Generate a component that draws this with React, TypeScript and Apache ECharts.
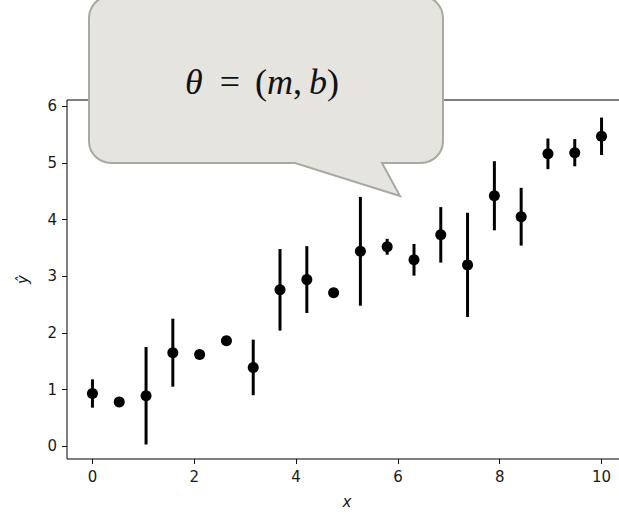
import React, { useEffect, useRef } from "react";
import * as echarts from "echarts";

const xValues = [0, 0.526, 1.053, 1.579, 2.105, 2.632, 3.158, 3.684, 4.211, 4.737, 5.263, 5.789, 6.316, 6.842, 7.368, 7.895, 8.421, 8.947, 9.474, 10];
const yValues = [0.93, 0.78, 0.89, 1.65, 1.62, 1.86, 1.39, 2.76, 2.94, 2.71, 3.44, 3.52, 3.29, 3.73, 3.2, 4.42, 4.05, 5.16, 5.18, 5.47];
const yErrors = [0.25, 0.05, 0.86, 0.6, 0.05, 0.05, 0.49, 0.72, 0.59, 0.05, 0.96, 0.14, 0.28, 0.49, 0.92, 0.61, 0.51, 0.27, 0.24, 0.33];
const xTicks = [0, 2, 4, 6, 8, 10];
const yTicks = [0, 1, 2, 3, 4, 5, 6];
const xRange = [-0.5, 10.5];
const yRange = [-0.226, 6.11];

const BUBBLE_D =
  "M 111 -4 L 421 -4 C 433.2 -4 443 5.8 443 18 L 443 141 C 443 153.2 433.2 163 421 163 " +
  "L 382 163 L 400 196 L 295 163 L 111 163 C 98.8 163 89 153.2 89 141 L 89 18 C 89 5.8 98.8 -4 111 -4 Z";

let registered = false;

export default function App() {
  const ref = useRef<HTMLDivElement>(null);
  useEffect(() => {
    if (!registered) {
      echarts.graphic.registerShape("bubble", echarts.graphic.extendPath(BUBBLE_D, {}) as any);
      registered = true;
    }
    const chart = echarts.init(ref.current!, null, { renderer: "svg" });
    const points = xValues.map((x, i) => [x, yValues[i]]);
    const bars = xValues.map((x, i) => [x, yValues[i], yErrors[i]]);
    const labelStyle = { color: "#1a1a1a", fontSize: 15, fontFamily: "DejaVu Sans", margin: 10 };
    chart.setOption({
      animation: false,
      backgroundColor: "#fff",
      grid: {
        left: 67,
        top: 100,
        right: 13,
        bottom: 49,
        show: true,
        borderColor: "#000",
        borderWidth: 1,
        backgroundColor: "transparent",
      },
      xAxis: {
        type: "value",
        min: xRange[0],
        max: xRange[1],
        splitLine: { show: false },
        axisLine: { show: false, onZero: false },
        axisTick: { show: true, length: 5, customValues: xTicks, lineStyle: { color: "#111" } },
        axisLabel: { ...labelStyle, customValues: xTicks },
        name: "x",
        nameLocation: "middle",
        nameGap: 35,
        nameTextStyle: { fontStyle: "italic", fontSize: 15, color: "#1a1a1a", fontFamily: "DejaVu Sans" },
      },
      yAxis: {
        type: "value",
        min: yRange[0],
        max: yRange[1],
        splitLine: { show: false },
        axisLine: { show: false, onZero: false },
        axisTick: { show: true, length: 5, customValues: yTicks, lineStyle: { color: "#111" } },
        axisLabel: { ...labelStyle, customValues: yTicks },
        name: "ŷ",
        nameLocation: "middle",
        nameRotate: 90,
        nameGap: 37,
        nameTextStyle: { fontStyle: "italic", fontSize: 15, color: "#1a1a1a", fontFamily: "DejaVu Sans" },
      },
      series: [
        {
          type: "custom",
          data: bars,
          encode: { x: 0, y: 1 },
          renderItem: (params: any, api: any) => {
            const x = api.value(0);
            const y = api.value(1);
            const e = api.value(2);
            const top = api.coord([x, y + e]);
            const bot = api.coord([x, y - e]);
            return {
              type: "line",
              shape: { x1: top[0], y1: top[1], x2: bot[0], y2: bot[1] },
              style: { stroke: "#000", lineWidth: 3 },
            };
          },
          z: 2,
        },
        {
          type: "scatter",
          data: points,
          symbol: "circle",
          symbolSize: 11,
          itemStyle: { color: "#000", opacity: 1 },
          z: 3,
        },
      ],
      graphic: [
        {
          type: "bubble",
          x: 0,
          y: 0,
          z: 100,
          style: { fill: "#e6e4de", stroke: "#a9a9a3", lineWidth: 2 },
        },
        {
          type: "text",
          x: 262,
          y: 82,
          z: 101,
          style: {
            text: "{i|θ}{e|=}{n|(}{i|m}{c|,}{i|b}{n|)}",
            x: 0,
            y: 0,
            align: "center",
            verticalAlign: "middle",
            fill: "#111",
            font: "36px 'Liberation Serif'",
            rich: {
              i: { fontFamily: "Liberation Serif", fontSize: 36, fontStyle: "italic", fill: "#111" },
              n: { fontFamily: "Liberation Serif", fontSize: 36, fill: "#111" },
              e: { fontFamily: "Liberation Serif", fontSize: 36, fill: "#111", padding: [0, 15, 0, 17] },
              c: { fontFamily: "Liberation Serif", fontSize: 36, fill: "#111", padding: [0, 7, 0, 0] },
            },
          },
        },
      ],
    });
    return () => chart.dispose();
  }, []);
  return (
    <div style={{ position: "fixed", left: 0, top: 0, width: 619, height: 514, overflow: "hidden" }}>
      <div ref={ref} style={{ width: 640, height: 514 }} />
    </div>
  );
}
